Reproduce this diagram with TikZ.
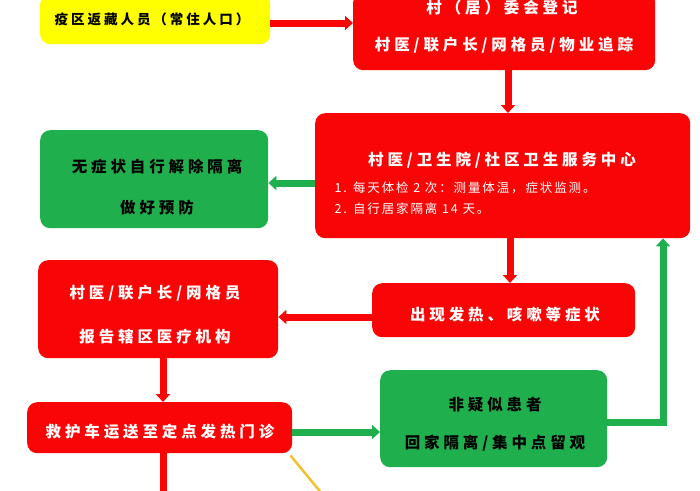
\documentclass[tikz,border=0pt]{standalone}
\usepackage{fontspec}
\newfontfamily\cjk{Noto Sans CJK SC}[LetterSpace=25]
\newfontfamily\cjksm{Noto Sans CJK SC}[LetterSpace=15]
\newfontfamily\cjky{Noto Sans CJK SC}[LetterSpace=22]
\usetikzlibrary{arrows.meta}
\definecolor{boxred}{HTML}{FA0505}
\definecolor{boxgreen}{HTML}{1FAF4D}
\definecolor{boxyellow}{HTML}{FFFF00}
\definecolor{lineyellow}{HTML}{F2C12E}
\tikzset{
  box/.style={rounded corners=10pt, inner sep=0pt, anchor=north west},
  redbox/.style={box, fill=boxred},
  greenbox/.style={box, fill=boxgreen},
  yellowbox/.style={box, fill=boxyellow},
  wtxt/.style={text=white, font=\cjk\fontsize{15.5}{18}\selectfont\bfseries},
  btxt/.style={text=black, font=\cjk\fontsize{15.5}{18}\selectfont\bfseries},
  smtxt/.style={text=white, font=\cjksm\fontsize{12.5}{15}\selectfont, anchor=west},
  conn/.style={line width=7pt, -{Triangle[width=14pt,length=8pt]}},
  redconn/.style={conn, draw=boxred},
  greenconn/.style={conn, draw=boxgreen},
}
\begin{document}
\begin{tikzpicture}[x=1pt,y=-1pt]
\useasboundingbox (0,0) rectangle (700,490);
% boxes
\node[yellowbox, minimum width=230pt, minimum height=50pt] (yel) at (40,-6) {};
\node[redbox, minimum width=302pt, minimum height=78pt] (reg) at (353,-8) {};
\node[redbox, minimum width=375pt, minimum height=125pt] (mon) at (315,113) {};
\node[greenbox, minimum width=228pt, minimum height=98pt] (free) at (40,130) {};
\node[redbox, minimum width=240pt, minimum height=98pt] (rep) at (38,260) {};
\node[redbox, minimum width=263pt, minimum height=54pt] (sym) at (372,283) {};
\node[redbox, minimum width=265pt, minimum height=51pt] (amb) at (27,402) {};
\node[greenbox, minimum width=227pt, minimum height=97pt] (non) at (380,370) {};
% texts
\node[text=black, font=\cjky\fontsize{13.5}{16}\selectfont\bfseries] (t1) at (152,19) {疫区返藏人员（常住人口）};
\node[wtxt] (t2) at (502,8) {村（居）委会登记};
\node[wtxt] (t3) at (504,45) {村医/联户长/网格员/物业追踪};
\node[wtxt] (t4) at (502,160) {村医/卫生院/社区卫生服务中心};
\node[smtxt] (t5) at (331,188) {1. 每天体检 2 次：测量体温，症状监测。};
\node[smtxt] (t6) at (331,209) {2. 自行居家隔离 14 天。};
\node[btxt] (t7) at (157,167) {无症状自行解除隔离};
\node[btxt] (t8) at (157,208) {做好预防};
\node[wtxt] (t9) at (155,293) {村医/联户长/网格员};
\node[wtxt] (t10) at (155,337) {报告辖区医疗机构};
\node[wtxt] (t11) at (505,315) {出现发热、咳嗽等症状};
\node[wtxt] (t12) at (160,432) {救护车运送至定点发热门诊};
\node[btxt] (t13) at (495,405) {非疑似患者};
\node[btxt] (t14) at (495,443) {回家隔离/集中点留观};
% connectors
\coordinate (c1) at (yel.east |- 0,23);
\draw[redconn] (c1) -- (c1 -| reg.west);
\coordinate (c2) at (508,0);
\draw[redconn] (c2 |- reg.south) -- (c2 |- mon.north);
\coordinate (c3) at (0,183);
\draw[greenconn] (c3 -| mon.west) -- (c3 -| free.east);
\coordinate (c4) at (510,0);
\draw[redconn] (c4 |- mon.south) -- (c4 |- sym.north);
\coordinate (c5) at (0,317);
\draw[redconn] (c5 -| sym.west) -- (c5 -| rep.east);
\coordinate (c6) at (163,0);
\draw[redconn] (c6 |- rep.south) -- (c6 |- amb.north);
\coordinate (c7) at (0,432);
\draw[greenconn] (c7 -| amb.east) -- (c7 -| non.west);
\coordinate (c8) at (663,422);
\draw[greenconn] (c8 -| non.east) -- (c8) -- (c8 |- mon.south);
\coordinate (c9) at (163,495);
\draw[line width=7pt, draw=boxred] (c6 |- amb.south) -- (c9);
\coordinate (c10) at (323,495);
\draw[line width=2.5pt, draw=lineyellow] (amb.south east) ++(-2,2) -- (c10);
\end{tikzpicture}
\end{document}
